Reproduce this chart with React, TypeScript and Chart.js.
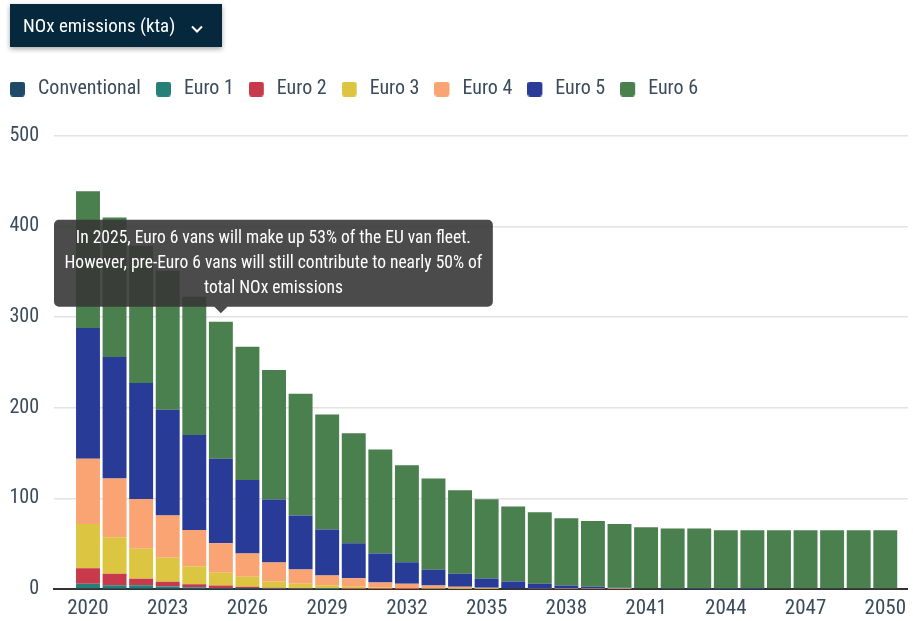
import React, { useEffect, useRef } from 'react';
import { Chart, registerables } from 'chart.js';

Chart.register(...registerables);

const FONT = "'Roboto Condensed', 'Liberation Sans Narrow', 'Arial Narrow', 'DejaVu Sans Condensed', sans-serif";
const TEXT = '#3a4b5c';

const titleText = 'NOx emissions (kta)';

const years = [
  2020, 2021, 2022, 2023, 2024, 2025, 2026, 2027, 2028, 2029, 2030,
  2031, 2032, 2033, 2034, 2035, 2036, 2037, 2038, 2039, 2040,
  2041, 2042, 2043, 2044, 2045, 2046, 2047, 2048, 2049, 2050,
];
const xTickYears = [2020, 2023, 2026, 2029, 2032, 2035, 2038, 2041, 2044, 2047, 2050];
const yTickValues = [0, 100, 200, 300, 400, 500];

const seriesNames = ['Conventional', 'Euro 1', 'Euro 2', 'Euro 3', 'Euro 4', 'Euro 5', 'Euro 6'];
const seriesColors = ['#1d4a6a', '#25807a', '#c8394b', '#dbc541', '#fba473', '#283b96', '#4a7f4e'];

const conventional = [0.8, 0.6, 0.5, 0.4, 0.3, 0.2, 0.1, 0, 0, 0, 0, 0, 0, 0, 0, 0, 0, 0, 0, 0, 0, 0, 0, 0, 0, 0, 0, 0, 0, 0, 0];
const euro1 = [5, 3.5, 3.7, 2.4, 1.5, 1.0, 0.6, 0.3, 0.2, 0.1, 0, 0, 0, 0, 0, 0, 0, 0, 0, 0, 0, 0, 0, 0, 0, 0, 0, 0, 0, 0, 0];
const euro2 = [17.1, 12.6, 7, 5.1, 3.5, 2.7, 1.7, 1.2, 0.8, 0.5, 0.3, 0.2, 0.1, 0, 0, 0, 0, 0, 0, 0, 0, 0, 0, 0, 0, 0, 0, 0, 0, 0, 0];
const euro3 = [48.9, 40.4, 33.1, 26.5, 19.9, 13.9, 11, 6.4, 4.7, 3.6, 2.1, 1.3, 0.9, 0.6, 0.4, 0.2, 0, 0, 0, 0, 0, 0, 0, 0, 0, 0, 0, 0, 0, 0, 0];
const euro4 = [72, 64.7, 55.1, 46.6, 40, 32.7, 25.7, 21.3, 15.8, 10.7, 9.5, 5.7, 4.7, 3.3, 2.0, 1.2, 0.8, 0.5, 0.3, 0.2, 0.1, 0, 0, 0, 0, 0, 0, 0, 0, 0, 0];
const euro5 = [144, 134, 127.8, 116.8, 104.7, 93.3, 81.2, 69.4, 59.5, 50.7, 38.6, 31.9, 23.8, 17.3, 14.3, 10.2, 7.5, 5.2, 3.6, 2.2, 1.4, 0.8, 0.5, 0.3, 0.2, 0.1, 0, 0, 0, 0, 0];
const euro6 = [150.9, 153.9, 151.3, 153.2, 152.4, 150.9, 146.9, 142.9, 134.4, 127, 121.2, 114.9, 106.9, 100.6, 92.2, 87.3, 82.6, 78.9, 74.1, 72.7, 70.3, 67.3, 66.2, 66.4, 64.6, 64.7, 64.8, 64.8, 64.8, 64.8, 64.8];

const series = [conventional, euro1, euro2, euro3, euro4, euro5, euro6];

const noteYear = 2025;
const noteLines = [
  'In 2025, Euro 6 vans will make up 53% of the EU van fleet.',
  'However, pre-Euro 6 vans will still contribute to nearly 50% of',
  'total NOx emissions',
];

function makeSwatch(color: string) {
  const c = document.createElement('canvas');
  c.width = 21;
  c.height = 15;
  const g = c.getContext('2d')!;
  g.fillStyle = color;
  g.beginPath();
  if ((g as any).roundRect) (g as any).roundRect(0, 0, 15, 15, 3);
  else g.rect(0, 0, 15, 15);
  g.fill();
  return c;
}

const legendSpacer = {
  id: 'legendSpacer',
  afterInit(chart: any) {
    const lg = chart.legend;
    if (!lg) return;
    const fit = lg.fit;
    lg.fit = function () {
      fit.call(this);
      this.height += 26.7;
    };
  },
};

const noteBox = {
  id: 'noteBox',
  afterDraw(chart: any) {
    const { ctx, chartArea } = chart;
    const x = chart.scales.x;
    const y = chart.scales.y;
    const idx = years.indexOf(noteYear);
    const total = series.reduce((s, d) => s + d[idx], 0);
    const cx = x.getPixelForValue(noteYear);
    const tipY = y.getPixelForValue(total) - 8.5;
    const caret = 6.5;
    ctx.save();
    ctx.font = `17.5px ${FONT}`;
    const lineH = 25;
    const padX = 10.5;
    const padY = 6;
    const w = Math.max(...noteLines.map((l) => ctx.measureText(l).width)) + padX * 2;
    const h = noteLines.length * lineH + padY * 2;
    const bottom = tipY - caret;
    const top = bottom - h;
    const left = Math.max(chartArea.left, cx - w / 2);
    ctx.fillStyle = 'rgba(55,55,55,0.9)';
    ctx.beginPath();
    if (ctx.roundRect) ctx.roundRect(left, top, w, h, 5);
    else ctx.rect(left, top, w, h);
    ctx.moveTo(cx - caret, bottom);
    ctx.lineTo(cx, bottom + caret);
    ctx.lineTo(cx + caret, bottom);
    ctx.closePath();
    ctx.fill();
    ctx.fillStyle = '#ffffff';
    ctx.textAlign = 'center';
    ctx.textBaseline = 'middle';
    noteLines.forEach((l, i) => {
      ctx.fillText(l, left + w / 2, top + padY + lineH / 2 + i * lineH);
    });
    ctx.restore();
  },
};

export default function App() {
  const ref = useRef<HTMLCanvasElement | null>(null);

  useEffect(() => {
    if (!ref.current) return;
    const swatches = seriesColors.map(makeSwatch);
    const chart = new Chart(ref.current, {
      type: 'bar',
      data: {
        labels: years,
        datasets: series.map((d, i) => ({
          label: seriesNames[i],
          data: d,
          backgroundColor: seriesColors[i],
          borderWidth: 0,
          barPercentage: 0.9,
          categoryPercentage: 1,
        })),
      },
      options: {
        responsive: false,
        animation: false,
        events: [],
        layout: { padding: { top: 61, left: 0, right: 0, bottom: 0 } },
        scales: {
          x: {
            type: 'linear',
            stacked: true,
            offset: false,
            min: 2018.721,
            max: 2050.849,
            afterBuildTicks: (s: any) => {
              s.ticks = xTickYears.map((v) => ({ value: v }));
            },
            afterFit: (s: any) => {
              s.height = 32;
            },
            grid: { display: false, drawTicks: false },
            border: { display: true, color: '#333333', width: 2 },
            ticks: {
              padding: 7,
              color: TEXT,
              autoSkip: false,
              maxRotation: 0,
              font: { family: FONT, size: 21 },
              callback: (v: any) => String(v),
            },
          },
          y: {
            stacked: true,
            min: 0,
            max: 500,
            afterBuildTicks: (s: any) => {
              s.ticks = yTickValues.map((v) => ({ value: v }));
            },
            afterFit: (s: any) => {
              s.width = 59;
            },
            grid: {
              drawTicks: false,
              lineWidth: 1.5,
              color: (c: any) => (c.tick && c.tick.value === 0 ? 'rgba(0,0,0,0)' : '#e2e2e2'),
            },
            border: { display: false },
            ticks: {
              padding: 15,
              color: TEXT,
              font: { family: FONT, size: 20 },
              callback: (v: any) => String(v),
            },
          },
        },
        plugins: {
          legend: {
            position: 'top',
            align: 'start',
            labels: {
              usePointStyle: true,
              pointStyleWidth: 15,
              boxHeight: 15,
              padding: 18,
              color: TEXT,
              font: { family: FONT, size: 20 },
              generateLabels: (c: any) =>
                (Chart.defaults.plugins.legend.labels.generateLabels as any)(c).map((item: any, i: number) => ({
                  ...item,
                  pointStyle: swatches[i],
                })),
            },
          },
          tooltip: { enabled: false },
        },
      } as any,
      plugins: [legendSpacer, noteBox],
    });
    return () => chart.destroy();
  }, []);

  return (
    <div style={{ position: 'absolute', left: 0, top: 0, width: 913, height: 621, overflow: 'hidden', background: '#fff' }}>
      <canvas ref={ref} width={918} height={621} style={{ position: 'absolute', left: -5, top: 0 }} />
      <div
        style={{
          position: 'absolute',
          left: 10,
          top: 4,
          width: 212,
          height: 43,
          boxSizing: 'border-box',
          paddingLeft: 13,
          background: '#05283c',
          color: '#ffffff',
          display: 'flex',
          alignItems: 'center',
          fontFamily: FONT,
          fontSize: 19,
          boxShadow: '0 2px 5px rgba(0,0,0,0.35)',
          zIndex: 2,
        }}
      >
        <span>{titleText}</span>
        <svg width="12" height="8" viewBox="0 0 12 8" style={{ position: 'absolute', left: 181, top: 20.5 }}>
          <polyline points="1,1.5 6,6.5 11,1.5" fill="none" stroke="#ffffff" strokeWidth="2" />
        </svg>
      </div>
    </div>
  );
}
